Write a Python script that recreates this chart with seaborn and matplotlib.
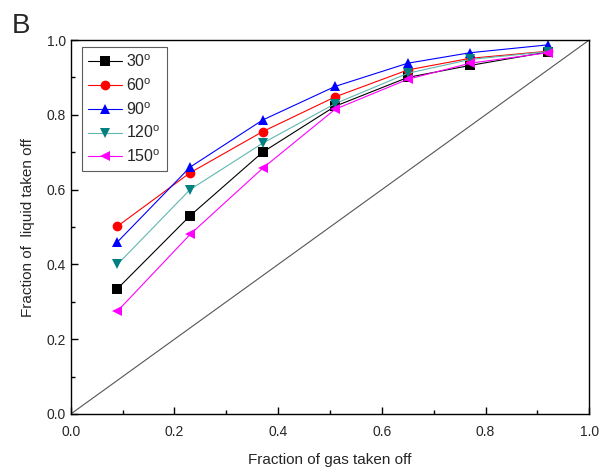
import matplotlib
matplotlib.use("Agg")
import matplotlib.pyplot as plt
import seaborn as sns
import pandas as pd
from matplotlib.ticker import MultipleLocator

gas_fraction = [0.09, 0.23, 0.37, 0.51, 0.65, 0.77, 0.92]
liq_30 = [0.335, 0.53, 0.70, 0.823, 0.90, 0.932, 0.968]
liq_60 = [0.502, 0.645, 0.755, 0.848, 0.92, 0.951, 0.970]
liq_90 = [0.46, 0.66, 0.786, 0.876, 0.938, 0.966, 0.987]
liq_120 = [0.40, 0.60, 0.724, 0.830, 0.911, 0.948, 0.969]
liq_150 = [0.275, 0.48, 0.657, 0.815, 0.895, 0.938, 0.966]
angles = ["30", "60", "90", "120", "150"]

series = [liq_30, liq_60, liq_90, liq_120, liq_150]
labels = [f"{a}$^\\mathrm{{o}}$" for a in angles]
rows = []
for lab, vals in zip(labels, series):
    for x, y in zip(gas_fraction, vals):
        rows.append({"gas": x, "liquid": y, "angle": lab})
df = pd.DataFrame(rows)

sns.set_style("ticks")
plt.rcParams["font.family"] = ["Liberation Sans", "DejaVu Sans"]
plt.rcParams["mathtext.fontset"] = "custom"
plt.rcParams["mathtext.rm"] = "Liberation Sans"

fig = plt.figure(figsize=(6.05, 4.68), dpi=100)
ax = fig.add_axes([0.117, 0.1154, 0.857, 0.7991])

line_colors = {labels[0]: "#000000", labels[1]: "#ff0000", labels[2]: "#0000ff",
               labels[3]: "#5fb8b0", labels[4]: "#ff00ff"}
marker_colors = ["#000000", "#ff0000", "#0000ff", "#008080", "#ff00ff"]
markers = {labels[0]: "s", labels[1]: "o", labels[2]: "^", labels[3]: "v", labels[4]: "<"}

ax.plot([0, 1], [0, 1], color="#555555", lw=0.8, zorder=1)

sns.lineplot(data=df, x="gas", y="liquid", hue="angle", style="angle",
             palette=line_colors, markers=markers, dashes=False, ax=ax,
             linewidth=0.8, markersize=7, markeredgewidth=0, legend=True)

for line, mc in zip(ax.lines[1:6], marker_colors):
    line.set_markerfacecolor(mc)
    line.set_markeredgecolor(mc)

ax.set_xlim(0, 1)
ax.set_ylim(0, 1)
ax.xaxis.set_major_locator(MultipleLocator(0.2))
ax.yaxis.set_major_locator(MultipleLocator(0.2))
ax.xaxis.set_minor_locator(MultipleLocator(0.1))
ax.yaxis.set_minor_locator(MultipleLocator(0.1))
ax.xaxis.set_major_formatter(matplotlib.ticker.FormatStrFormatter("%.1f"))
ax.yaxis.set_major_formatter(matplotlib.ticker.FormatStrFormatter("%.1f"))
ax.tick_params(which="both", direction="in", labelsize=10, width=1.0, color="black")
ax.tick_params(which="major", length=5)
ax.tick_params(which="minor", length=3)
ax.tick_params(axis="x", pad=8)
for sp in ax.spines.values():
    sp.set_visible(True)
    sp.set_linewidth(1.0)
    sp.set_color("black")

ax.set_xlabel("Fraction of gas taken off", fontsize=11, labelpad=10)
ax.set_ylabel("Fraction of  liquid taken off", fontsize=11, labelpad=8)

handles, labs = ax.get_legend_handles_labels()
for h, mc in zip(handles, marker_colors):
    h.set_markerfacecolor(mc)
    h.set_markeredgecolor(mc)
    h.set_linewidth(0.8)
leg = ax.legend(handles, labs, loc="upper left", bbox_to_anchor=(0.015, 0.99),
                fontsize=11.5, frameon=True, fancybox=False, edgecolor="#333333",
                handlelength=2.1, handletextpad=0.3, labelspacing=0.45,
                borderpad=0.4, borderaxespad=0.2)
leg.get_frame().set_linewidth(0.8)

fig.text(0.02, 0.9295, "B", fontsize=20, ha="left", va="baseline")

fig.savefig("out.png", dpi=100)
